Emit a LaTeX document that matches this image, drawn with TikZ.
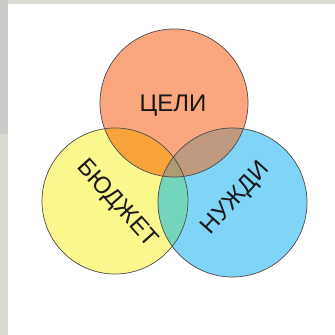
\documentclass[tikz,border=0pt]{standalone}
\usepackage{fontspec}
\setmainfont{Liberation Sans}
\begin{document}
\begin{tikzpicture}[x=1pt,y=-1pt,
  lbl/.style={inner sep=0pt, text=black!90, font=\fontsize{24}{24}\selectfont},
  ring/.style={draw=black!70, line width=0.7pt}]
\definecolor{framelight}{HTML}{DCDAD5}
\definecolor{framedark}{HTML}{CBCAC6}
\definecolor{goalfill}{HTML}{FAA77F}
\definecolor{budgetfill}{HTML}{FAF78C}
\definecolor{needfill}{HTML}{80D4F7}
\definecolor{gbfill}{HTML}{F7A33A}
\definecolor{gnfill}{HTML}{BF9A80}
\definecolor{bnfill}{HTML}{73D5BC}
\definecolor{allfill}{HTML}{AE9C72}
% page frame
\useasboundingbox (0,0) rectangle (335,335);
\fill[framelight] (0,0) rectangle (335,335);
\fill[framedark] (0,0) rectangle (8,134);
\fill[white] (8,4) rectangle (335,335);
% circle centres
\coordinate (g) at (174,103);
\coordinate (b) at (115,201);
\coordinate (n) at (232.5,202.5);
% plain discs
\fill[goalfill] (g) circle (74);
\fill[budgetfill] (b) circle (73);
\fill[needfill] (n) circle (74.5);
% pairwise overlaps
\begin{scope}
  \clip (b) circle (73);
  \fill[bnfill] (n) circle (74.5);
\end{scope}
\begin{scope}
  \clip (g) circle (74);
  \fill[gbfill] (b) circle (73);
  \fill[gnfill] (n) circle (74.5);
  \clip (b) circle (73);
  \fill[allfill] (n) circle (74.5);
\end{scope}
% outlines
\draw[ring] (g) circle (74);
\draw[ring] (b) circle (73);
\draw[ring] (n) circle (74.5);
% labels
\node[lbl] (goals) at (173,106) {ЦЕЛИ};
\node[lbl, rotate=-48] (budget) at (117,204) {БЮДЖЕТ};
\node[lbl, rotate=48] (needs) at (236,199) {НУЖДИ};
\end{tikzpicture}
\end{document}
